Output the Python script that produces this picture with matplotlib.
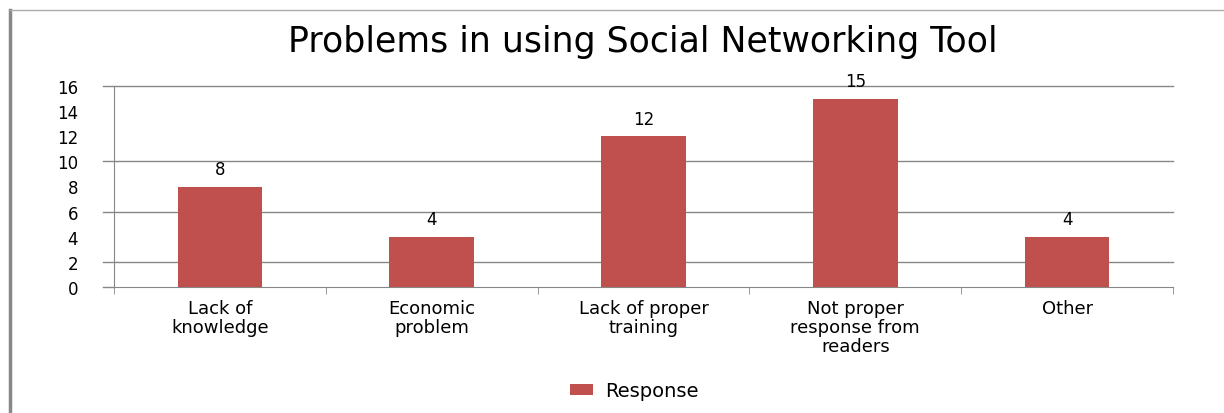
import matplotlib.pyplot as plt
from matplotlib.lines import Line2D

plt.rcParams['font.family'] = ['DejaVu Sans']

categories = ["Lack of\nknowledge", "Economic\nproblem", "Lack of proper\ntraining",
              "Not proper\nresponse from\nreaders", "Other"]
response = [8, 4, 12, 15, 4]
yticks = [0, 2, 4, 6, 8, 10, 12, 14, 16]

barColor = "#C0504D"
gridColor = "#868686"
gridLevels = [2, 6, 10, 16]

fig = plt.figure(figsize=(12.24, 4.14), dpi=100)
ax = fig.add_axes([114/1224, 1-288/414, (1173-114)/1224, (288-87)/414])

x = list(range(len(categories)))
bars = ax.bar(x, response, width=0.4, color=barColor, label="Response", zorder=3)

# value labels over each bar
for xi, v in zip(x, response):
    ax.annotate(str(v), (xi, v), xytext=(0, 6), textcoords="offset points",
                ha="center", va="bottom", fontsize=12)

ax.set_xlim(-0.5, len(categories) - 0.5)
ax.set_ylim(0, 16)
ax.set_yticks(yticks)
ax.tick_params(axis="y", length=0, pad=26, labelsize=12)

# horizontal grid lines, running a little past the y axis on the left
for g in gridLevels:
    ax.plot([-0.55, len(categories) - 0.5], [g, g], color=gridColor, linewidth=1,
            zorder=1, clip_on=False)
ax.plot([-0.55, -0.5], [0, 0], color=gridColor, linewidth=1, clip_on=False)

# category labels centred, tick marks at category boundaries
ax.set_xticks(x)
ax.set_xticklabels(categories, fontsize=13, linespacing=1.05)
ax.tick_params(axis="x", length=0, pad=9)
ax.set_xticks([i - 0.5 for i in range(len(categories) + 1)], minor=True)
ax.tick_params(axis="x", which="minor", length=5, color=gridColor)

for side in ["top", "right"]:
    ax.spines[side].set_visible(False)
for side in ["left", "bottom"]:
    ax.spines[side].set_color(gridColor)

fig.text(0.525, 1-42/414, "Problems in using Social Networking Tool",
         ha="center", va="center", fontsize=25)

fig.legend(handles=[bars], loc="center", bbox_to_anchor=(0.518, 1-392/414),
           frameon=False, fontsize=14, handlelength=1.2, handleheight=0.45,
           handletextpad=0.6)

# outer frame lines
fig.add_artist(Line2D([10/1224, 10/1224], [0, 1-11/414], color="#888888", linewidth=2.5))
fig.add_artist(Line2D([10/1224, 1], [1-11/414, 1-11/414], color="#AAAAAA", linewidth=1))

fig.savefig("out.png", dpi=100)
